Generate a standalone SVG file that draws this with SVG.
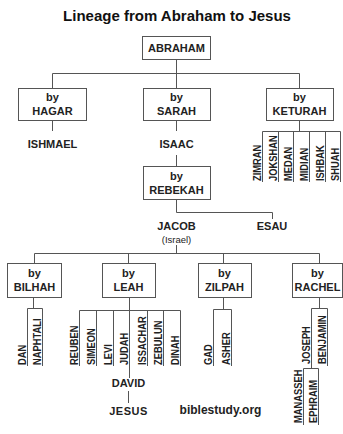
<svg xmlns="http://www.w3.org/2000/svg" width="343" height="434" viewBox="0 0 343 434">
<style>
text{font-family:"Liberation Sans",Arial,sans-serif;font-weight:bold;fill:#222}
.t{font-size:15px;fill:#111}
.b{font-size:11px;text-anchor:middle}
.s{font-size:9.5px;text-anchor:middle;font-weight:normal}
.v{font-size:11px}
.box{fill:#fff;stroke:#555;stroke-width:1}
.c{fill:none;stroke:#555;stroke-width:1}
</style>
<rect width="343" height="434" fill="#fff"/>
<text class="t" x="177" y="21" text-anchor="middle">Lineage from Abraham to Jesus</text>
<g id="connectors" class="c">
<path d="M176.5 59V73.5M52.5 73.5H299.5M52.5 73.5V88M176.5 73.5V88M299.5 73.5V88"/>
<path d="M52.5 120V131M176.5 120V131M176.5 155V166"/>
<path d="M299.5 120V131.5M262.5 131.5H340.5M262.5 131.5V182M278.5 131.5V182M293.5 131.5V182M309.5 131.5V182M325.5 131.5V182M340.5 131.5V182"/>
<path d="M176.5 199V212.5H272.5V219"/>
<path d="M176.5 245V253.5M34.5 253.5H319.5M34.5 253.5V263M128.5 253.5V263M223.5 253.5V263M319.5 253.5V263"/>
<path d="M33.5 297V308.5M27.5 308.5H42.5M27.5 308.5V366M42.5 308.5V366"/>
<path d="M129.5 297V378M79.5 310.5H180.5M79.5 310.5V366M96.5 310.5V366M113.5 310.5V366M147.5 310.5V366M163.5 310.5V366M180.5 310.5V366M128.5 391V403"/>
<path d="M223.5 297V309.5M213.5 309.5H231.5M213.5 309.5V366M231.5 309.5V366"/>
<path d="M319.5 297V308.5M311.5 308.5H327.5M311.5 308.5V368.5M327.5 308.5V366M303.5 368.5H318.5M303.5 368.5V425M318.5 368.5V425"/>
</g>
<g id="abraham"><rect class="box" x="142.5" y="36.5" width="68" height="23"/><text class="b" x="176.5" y="52">ABRAHAM</text></g>
<g id="hagar"><rect class="box" x="18.5" y="88.5" width="68" height="32"/><text class="b" x="52.5" y="101">by</text><text class="b" x="52.5" y="115">HAGAR</text></g>
<g id="sarah"><rect class="box" x="143.5" y="88.5" width="67" height="32"/><text class="b" x="176.5" y="101">by</text><text class="b" x="176.5" y="115">SARAH</text></g>
<g id="keturah"><rect class="box" x="266.5" y="88.5" width="67" height="32"/><text class="b" x="299.5" y="101">by</text><text class="b" x="299.5" y="115">KETURAH</text></g>
<g id="ishmael"><text class="b" x="52.5" y="148">ISHMAEL</text></g>
<g id="isaac"><text class="b" x="176.5" y="148">ISAAC</text></g>
<g id="keturah-sons">
<text class="v" transform="translate(261,181) rotate(-90) scale(0.85,1)">ZIMRAN</text>
<text class="v" transform="translate(277,181) rotate(-90) scale(0.85,1)">JOKSHAN</text>
<text class="v" transform="translate(292,181) rotate(-90) scale(0.85,1)">MEDAN</text>
<text class="v" transform="translate(308,181) rotate(-90) scale(0.85,1)">MIDIAN</text>
<text class="v" transform="translate(324,181) rotate(-90) scale(0.85,1)">ISHBAK</text>
<text class="v" transform="translate(339,181) rotate(-90) scale(0.85,1)">SHUAH</text>
</g>
<g id="rebekah"><rect class="box" x="143.5" y="166.5" width="67" height="33"/><text class="b" x="176.5" y="180">by</text><text class="b" x="176.5" y="194">REBEKAH</text></g>
<g id="jacob"><text class="b" x="176.5" y="230">JACOB</text><text class="s" x="176.5" y="243">(Israel)</text></g>
<g id="esau"><text class="b" x="272" y="230">ESAU</text></g>
<g id="bilhah"><rect class="box" x="7.5" y="263.5" width="54" height="34"/><text class="b" x="34.5" y="277">by</text><text class="b" x="34.5" y="291">BILHAH</text></g>
<g id="leah"><rect class="box" x="102.5" y="263.5" width="53" height="34"/><text class="b" x="128.5" y="277">by</text><text class="b" x="128.5" y="291">LEAH</text></g>
<g id="zilpah"><rect class="box" x="198.5" y="263.5" width="53" height="34"/><text class="b" x="224.5" y="277">by</text><text class="b" x="224.5" y="291">ZILPAH</text></g>
<g id="rachel"><rect class="box" x="292.5" y="263.5" width="50" height="34"/><text class="b" x="317.5" y="277">by</text><text class="b" x="317.5" y="291">RACHEL</text></g>
<g id="bilhah-sons">
<text class="v" transform="translate(26,365) rotate(-90) scale(0.85,1)">DAN</text>
<text class="v" transform="translate(41,365) rotate(-90) scale(0.85,1)">NAPHTALI</text>
</g>
<g id="leah-sons">
<text class="v" transform="translate(78,365) rotate(-90) scale(0.85,1)">REUBEN</text>
<text class="v" transform="translate(95,365) rotate(-90) scale(0.85,1)">SIMEON</text>
<text class="v" transform="translate(112,365) rotate(-90) scale(0.85,1)">LEVI</text>
<text class="v" transform="translate(128,365) rotate(-90) scale(0.85,1)">JUDAH</text>
<text class="v" transform="translate(146,365) rotate(-90) scale(0.85,1)">ISSACHAR</text>
<text class="v" transform="translate(162,365) rotate(-90) scale(0.85,1)">ZEBULUN</text>
<text class="v" transform="translate(179,365) rotate(-90) scale(0.85,1)">DINAH</text>
</g>
<g id="zilpah-sons">
<text class="v" transform="translate(212,365) rotate(-90) scale(0.85,1)">GAD</text>
<text class="v" transform="translate(230,365) rotate(-90) scale(0.85,1)">ASHER</text>
</g>
<g id="rachel-sons">
<text class="v" transform="translate(310,364) rotate(-90) scale(0.85,1)">JOSEPH</text>
<text class="v" transform="translate(326,364) rotate(-90) scale(0.85,1)">BENJAMIN</text>
</g>
<g id="joseph-sons">
<text class="v" transform="translate(302,423) rotate(-90) scale(0.85,1)">MANASSEH</text>
<text class="v" transform="translate(317,423) rotate(-90) scale(0.85,1)">EPHRAIM</text>
</g>
<g id="david"><text class="b" x="128.5" y="387">DAVID</text></g>
<g id="jesus"><text class="b" x="128.5" y="415" letter-spacing="0.5">JESUS</text></g>
<text x="220.5" y="414" text-anchor="middle" font-size="12">biblestudy.org</text>
</svg>
